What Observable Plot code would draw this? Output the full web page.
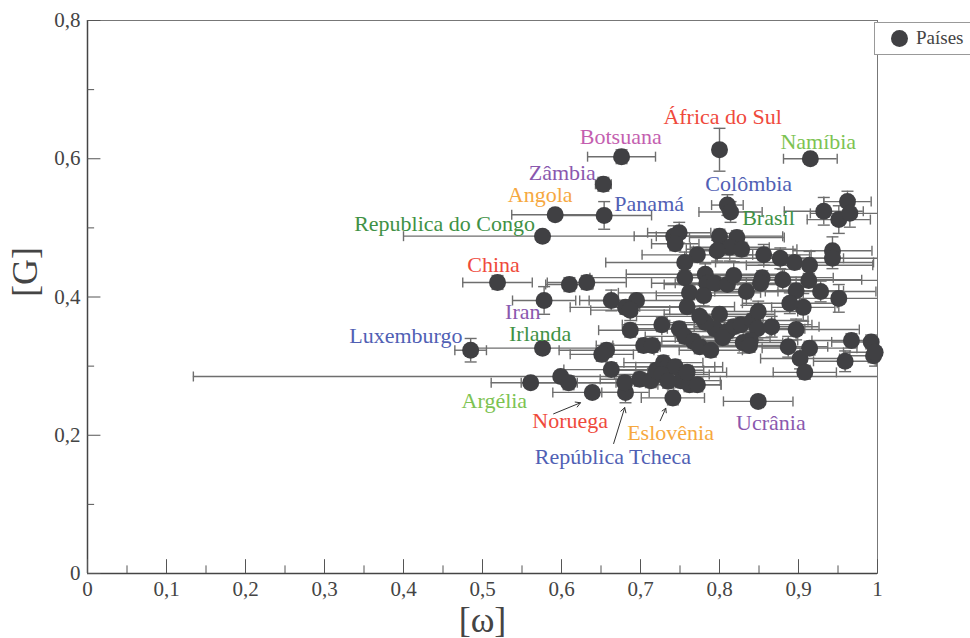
<!DOCTYPE html>
<html>
<head>
<meta charset="utf-8">
<script src="https://cdn.jsdelivr.net/npm/d3@7"></script>
<script src="https://cdn.jsdelivr.net/npm/@observablehq/plot@0.6"></script>
<style>
  html, body { margin: 0; padding: 0; background: #fff; overflow: hidden; }
  #wrap { position: relative; width: 970px; height: 638px; }
  #legend { position: absolute; left: 874px; top: 22px; width: 120px; height: 31px;
    border: 1px solid #999; background: #fff; font-family: "Liberation Serif", "Times New Roman", "DejaVu Serif", serif;
    font-size: 19px; color: #444; }
  #legend .dot { position: absolute; left: 16px; top: 7px; width: 17px; height: 17px; border-radius: 50%; background: #404043; }
  #legend .lab { position: absolute; left: 41px; top: 4px; }
  svg text { font-family: "Liberation Serif", "Times New Roman", "DejaVu Serif", serif !important; }
</style>
</head>
<body>
<div id="wrap">
  <div id="chart"></div>
  <div id="legend"><div class="dot"></div><div class="lab">Países</div></div>
</div>
<script>
// ---- data: [ω] (x), [G] (y), error half-widths ----
const xs = [0.676,0.800,0.915,0.653,0.592,0.654,0.576,0.810,0.814,0.519,0.578,0.485,0.576,0.561,0.639,0.681,0.741,0.849,
  0.932,0.951,0.962,0.965,0.742,0.749,0.744,0.800,0.822,0.813,0.828,0.797,0.856,0.877,0.895,0.914,0.943,0.943,0.772,0.756,
  0.632,0.610,0.663,0.695,0.681,0.687,0.756,0.762,0.759,0.782,0.784,0.780,0.794,0.810,0.818,0.834,0.854,0.852,0.880,0.897,
  0.928,0.951,0.913,0.906,0.889,0.800,0.794,0.782,0.775,0.810,0.818,0.827,0.842,0.849,0.848,0.866,0.897,0.727,0.687,0.704,
  0.715,0.657,0.651,0.749,0.756,0.767,0.775,0.789,0.804,0.830,0.839,0.838,0.887,0.914,0.902,0.908,0.959,0.967,0.992,0.995,
  0.997,0.663,0.699,0.713,0.720,0.729,0.734,0.744,0.751,0.762,0.772,0.727,0.735,0.599,0.609,0.680,0.759];
const ys = [0.603,0.613,0.600,0.563,0.519,0.518,0.488,0.533,0.523,0.421,0.395,0.323,0.326,0.276,0.262,0.262,0.254,0.249,
  0.524,0.512,0.538,0.521,0.488,0.493,0.477,0.488,0.486,0.472,0.469,0.467,0.461,0.456,0.450,0.446,0.467,0.456,0.461,0.450,
  0.421,0.418,0.395,0.395,0.385,0.381,0.428,0.406,0.386,0.433,0.420,0.402,0.420,0.418,0.431,0.408,0.428,0.420,0.425,0.409,
  0.408,0.398,0.424,0.385,0.391,0.375,0.354,0.363,0.372,0.350,0.357,0.360,0.366,0.379,0.354,0.357,0.353,0.360,0.352,0.330,
  0.330,0.323,0.317,0.354,0.343,0.336,0.328,0.323,0.341,0.334,0.337,0.330,0.328,0.326,0.311,0.291,0.307,0.337,0.335,0.315,
  0.320,0.295,0.281,0.279,0.294,0.305,0.299,0.299,0.279,0.273,0.273,0.288,0.278,0.285,0.276,0.276,0.291];
const exs = [0.043,0.008,0.034,0.010,0.055,0.060,0.176,0.020,0.040,0.044,0.040,0.020,0.090,0.050,0.050,0.030,0.040,0.044,
  0.050,0.040,0.030,0.050,0.050,0.040,0.030,0.080,0.060,0.050,0.070,0.030,0.060,0.080,0.100,0.080,0.050,0.060,0.070,0.100,
  0.050,0.030,0.040,0.060,0.070,0.050,0.120,0.090,0.060,0.100,0.070,0.060,0.050,0.080,0.060,0.040,0.090,0.070,0.100,0.060,
  0.070,0.050,0.090,0.040,0.060,0.070,0.060,0.050,0.080,0.060,0.050,0.090,0.070,0.050,0.060,0.060,0.080,0.050,0.040,0.060,
  0.050,0.060,0.040,0.060,0.050,0.040,0.050,0.040,0.060,0.050,0.060,0.050,0.050,0.060,0.050,0.040,0.040,0.050,0.050,0.030,
  0.040,0.060,0.050,0.040,0.060,0.050,0.070,0.050,0.050,0.040,0.030,0.060,0.040,0.465,0.060,0.060,0.050];
const eys = [0.010,0.031,0.008,0.010,0.008,0.020,0.005,0.015,0.015,0.010,0.020,0.017,0.005,0.005,0.005,0.015,0.010,0.005,
  0.020,0.020,0.015,0.020,0.015,0.015,0.010,0.010,0.010,0.020,0.010,0.015,0.015,0.015,0.010,0.020,0.020,0.015,0.010,0.015,
  0.010,0.010,0.015,0.010,0.010,0.015,0.010,0.010,0.010,0.015,0.010,0.015,0.010,0.010,0.020,0.020,0.010,0.010,0.015,0.020,
  0.015,0.020,0.010,0.020,0.015,0.010,0.010,0.010,0.015,0.010,0.010,0.010,0.010,0.015,0.015,0.015,0.015,0.010,0.010,0.010,
  0.010,0.010,0.010,0.010,0.010,0.010,0.010,0.010,0.010,0.015,0.010,0.010,0.015,0.010,0.015,0.010,0.015,0.010,0.010,0.010,
  0.020,0.010,0.010,0.010,0.010,0.010,0.010,0.010,0.010,0.010,0.010,0.010,0.010,0.005,0.010,0.010,0.010];

// ---- country annotations (data coordinates) ----
const labelNames = ["África do Sul","Botsuana","Namíbia","Zâmbia","Angola","Panamá","Colômbia","Brasil",
  "Republica do Congo","China","Iran","Irlanda","Luxemburgo","Argélia","Noruega","Eslovênia","República Tcheca","Ucrânia"];
const labelX = [0.804,0.675,0.925,0.601,0.573,0.711,0.837,0.862,0.452,0.514,0.551,0.573,0.403,0.515,0.611,0.738,0.665,0.865];
const labelY = [0.660,0.631,0.625,0.580,0.548,0.534,0.563,0.514,0.505,0.446,0.378,0.346,0.343,0.250,0.220,0.204,0.168,0.218];
const arrowFrom = [[0.590,0.231],[0.666,0.188],[0.725,0.221]];
const arrowTo   = [[0.624,0.247],[0.680,0.240],[0.732,0.239]];

// ---- ticks ----
const xMajor = [0,0.1,0.2,0.3,0.4,0.5,0.6,0.7,0.8,0.9,1];
const xMinor = [0.05,0.15,0.25,0.35,0.45,0.55,0.65,0.75,0.85,0.95];
const yMajor = [0,0.2,0.4,0.6,0.8];
const yMinor = [0.1,0.3,0.5,0.7];

// ---- styles ----
const FONT = "'Liberation Serif', 'Times New Roman', 'DejaVu Serif', serif";
const palette = {red:"#ef4a3c", pink:"#c45fb0", lgreen:"#7dc352", purple:"#8a58ae", orange:"#f6a83f", blue:"#5060b4", green:"#3f9145"};
const labelColors = [palette.red,palette.pink,palette.lgreen,palette.purple,palette.orange,palette.blue,palette.blue,palette.green,
  palette.green,palette.red,palette.purple,palette.green,palette.blue,palette.lgreen,palette.red,palette.orange,palette.blue,palette.purple];

const pts = xs.map((x,i)=>({x, y: ys[i], ex: exs[i], ey: eys[i]}));
const labels = labelNames.map((n,i)=>({n, x: labelX[i], y: labelY[i], c: labelColors[i]}));
const arrows = arrowFrom.map((f,i)=>({x1:f[0], y1:f[1], x2:arrowTo[i][0], y2:arrowTo[i][1]}));
const fmt = d => d === 0 ? "0" : d === 1 ? "1" : String(+d.toFixed(2)).replace(".", ",");

const vcap = {draw(ctx, size){ const h = Math.sqrt(size/Math.PI); ctx.moveTo(0,-h); ctx.lineTo(0,h); }};
const hcap = {draw(ctx, size){ const h = Math.sqrt(size/Math.PI); ctx.moveTo(-h,0); ctx.lineTo(h,0); }};
const barColor = "#6e6e6e";

const chart = Plot.plot({
  width: 970, height: 638,
  marginLeft: 87, marginRight: 93, marginTop: 20, marginBottom: 65,
  style: {fontFamily: FONT, color: "#444", background: "#fff"},
  x: {domain: [0,1], axis: null},
  y: {domain: [0,0.8], axis: null},
  marks: [
    Plot.frame({stroke: "#777", strokeWidth: 1}),
    // error bars
    Plot.ruleY(pts, {y: "y", x1: d => d.x - d.ex, x2: d => d.x + d.ex, stroke: barColor, strokeWidth: 1.4, clip: true}),
    Plot.ruleX(pts, {x: "x", y1: d => d.y - d.ey, y2: d => d.y + d.ey, stroke: barColor, strokeWidth: 1.4, clip: true}),
    Plot.dot(pts, {x: d => d.x - d.ex, y: "y", symbol: vcap, r: 5, stroke: barColor, strokeWidth: 1.4, clip: true}),
    Plot.dot(pts, {x: d => d.x + d.ex, y: "y", symbol: vcap, r: 5, stroke: barColor, strokeWidth: 1.4, clip: true}),
    Plot.dot(pts, {x: "x", y: d => d.y - d.ey, symbol: hcap, r: 6, stroke: barColor, strokeWidth: 1.4, clip: true}),
    Plot.dot(pts, {x: "x", y: d => d.y + d.ey, symbol: hcap, r: 6, stroke: barColor, strokeWidth: 1.4, clip: true}),
    // points
    Plot.dot(pts, {x: "x", y: "y", r: 8.5, fill: "#404043", stroke: "none"}),
    // annotations
    Plot.arrow(arrows, {x1: "x1", y1: "y1", x2: "x2", y2: "y2", stroke: "#333", strokeWidth: 1, headLength: 8, bend: 0}),
    Plot.text(labels, {x: "x", y: "y", text: "n", fill: "c", fontSize: 22, fontFamily: FONT, textAnchor: "middle", lineAnchor: "middle"}),
    // axes lines & inward ticks
    Plot.ruleY([0], {stroke: "#444", strokeWidth: 1.5}),
    Plot.ruleX([0], {stroke: "#444", strokeWidth: 1.5}),
    Plot.ruleX(xMajor, {x: d => d, y1: 0, y2: 0.02, stroke: "#555"}),
    Plot.ruleX(xMinor, {x: d => d, y1: 0, y2: 0.011, stroke: "#555"}),
    Plot.ruleY(yMajor, {y: d => d, x1: 0, x2: 0.017, stroke: "#555"}),
    Plot.ruleY(yMinor, {y: d => d, x1: 0, x2: 0.009, stroke: "#555"}),
    // tick labels
    Plot.text(xMajor, {x: d => d, y: 0, text: fmt, dy: 16, fontSize: 21, fontFamily: FONT, fill: "#444", lineAnchor: "middle"}),
    Plot.text(yMajor, {x: 0, y: d => d, text: fmt, dx: -7, fontSize: 21, fontFamily: FONT, fill: "#444", textAnchor: "end"}),
    // axis titles
    Plot.text(["[ω]"], {frameAnchor: "bottom", dy: 58, fontSize: 36, fontFamily: FONT, fill: "#444"}),
    Plot.text(["[G]"], {frameAnchor: "left", dx: -62, rotate: -90, fontSize: 36, fontFamily: FONT, fill: "#444"})
  ]
});
document.getElementById("chart").appendChild(chart);
</script>
</body>
</html>
